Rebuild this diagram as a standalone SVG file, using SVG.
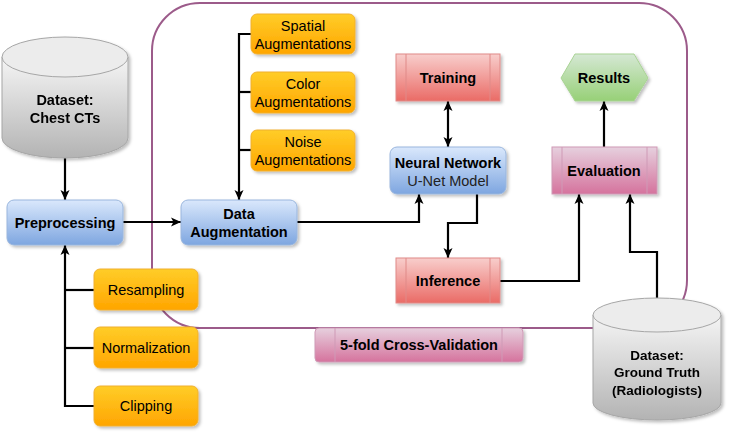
<svg xmlns="http://www.w3.org/2000/svg" width="740" height="438" viewBox="0 0 740 438">
<defs>
<linearGradient id="gBlue" x1="0" y1="0" x2="0" y2="1"><stop offset="0" stop-color="#dae8fc"/><stop offset="1" stop-color="#7ea6e0"/></linearGradient>
<linearGradient id="gOrange" x1="0" y1="0" x2="0" y2="1"><stop offset="0" stop-color="#ffcd28"/><stop offset="1" stop-color="#ffa500"/></linearGradient>
<linearGradient id="gRed" x1="0" y1="0" x2="0" y2="1"><stop offset="0" stop-color="#f8cecc"/><stop offset="1" stop-color="#ea6b66"/></linearGradient>
<linearGradient id="gGreen" x1="0" y1="0" x2="0" y2="1"><stop offset="0" stop-color="#d5e8d4"/><stop offset="1" stop-color="#97d077"/></linearGradient>
<linearGradient id="gPink" x1="0" y1="0" x2="0" y2="1"><stop offset="0" stop-color="#e6d0de"/><stop offset="1" stop-color="#d5739d"/></linearGradient>
<linearGradient id="gGray" x1="0" y1="0" x2="0" y2="1"><stop offset="0" stop-color="#f5f5f5"/><stop offset="1" stop-color="#b3b3b3"/></linearGradient>
<filter id="sh" x="-10%" y="-10%" width="130%" height="140%"><feDropShadow dx="2" dy="2" stdDeviation="1.5" flood-color="#000" flood-opacity="0.25"/></filter>
<marker id="arr" markerUnits="userSpaceOnUse" markerWidth="12" markerHeight="12" viewBox="0 0 12 12" refX="11" refY="6" orient="auto-start-reverse"><path d="M1,1.5 L11,6 L1,10.5 L3.5,6 Z" fill="#000"/></marker>
<style>
text{font-family:"Liberation Sans",Arial,sans-serif;fill:#000;text-anchor:middle;dominant-baseline:central}
.b{font-weight:bold;font-size:14.5px}
.n{font-size:14.5px}
.gt{font-weight:bold;font-size:13.5px}
.blue{fill:url(#gBlue);stroke:#9ab6dd;stroke-width:1;filter:url(#sh)}
.orange{fill:url(#gOrange);stroke:#f0b030;stroke-width:1;filter:url(#sh)}
.red{fill:url(#gRed);stroke:#e08a88;stroke-width:1;filter:url(#sh)}
.pink{fill:url(#gPink);stroke:#cf9ab6;stroke-width:1;filter:url(#sh)}
.green{fill:url(#gGreen);stroke:#a9d394;stroke-width:1;filter:url(#sh)}
.inner{stroke-width:1;fill:none}
.cyl{fill:url(#gGray);stroke:#a6a6a6;stroke-width:1}
.conn{fill:none;stroke:#000;stroke-width:2.2}
</style>
</defs>
<rect width="740" height="438" fill="#fff"/>

<g id="cross-validation-frame">
<rect x="152" y="3" width="535" height="325" rx="48" ry="48" fill="none" stroke="#9c5b8a" stroke-width="2"/>
</g>

<g id="connectors">
<path class="conn" d="M65,158 V200" marker-end="url(#arr)"/>
<path class="conn" d="M123,222 H181" marker-end="url(#arr)"/>
<path class="conn" d="M251,34 H239 V200" marker-end="url(#arr)"/>
<path class="conn" d="M251,92 H239"/>
<path class="conn" d="M251,150 H239"/>
<path class="conn" d="M297,222 H419 V194" marker-end="url(#arr)"/>
<path class="conn" d="M448,147 V101" marker-start="url(#arr)" marker-end="url(#arr)"/>
<path class="conn" d="M477,194 V223 H448 V258" marker-end="url(#arr)"/>
<path class="conn" d="M500,281 H579 V194" marker-end="url(#arr)"/>
<path class="conn" d="M657,298 V252 H630 V194" marker-end="url(#arr)"/>
<path class="conn" d="M604,147 V101" marker-end="url(#arr)"/>
<path class="conn" d="M94,406 H65 V245" marker-end="url(#arr)"/>
<path class="conn" d="M94,290 H65"/>
<path class="conn" d="M94,348 H65"/>
</g>

<g id="dataset-chest-cts" filter="url(#sh)">
<path class="cyl" d="M2,57 V138 A63,20 0 0 0 128,138 V57"/>
<ellipse class="cyl" cx="65" cy="57" rx="63" ry="20" style="fill:#ececec"/>
<text class="b" x="65" y="100">Dataset:</text>
<text class="b" x="65" y="118">Chest CTs</text>
</g>

<g id="preprocessing">
<rect class="blue" x="7" y="200" width="116" height="45" rx="7"/>
<text class="b" x="65" y="223">Preprocessing</text>
</g>

<g id="resampling">
<rect class="orange" x="94" y="269" width="104" height="41" rx="6"/>
<text class="n" x="146" y="290">Resampling</text>
</g>
<g id="normalization">
<rect class="orange" x="94" y="327" width="104" height="41" rx="6"/>
<text class="n" x="146" y="348">Normalization</text>
</g>
<g id="clipping">
<rect class="orange" x="94" y="386" width="104" height="40" rx="6"/>
<text class="n" x="146" y="406">Clipping</text>
</g>

<g id="data-augmentation">
<rect class="blue" x="181" y="200" width="116" height="45" rx="7"/>
<text class="b" x="239" y="214">Data</text>
<text class="b" x="239" y="232">Augmentation</text>
</g>

<g id="spatial-augmentations">
<rect class="orange" x="251" y="14" width="104" height="40" rx="6"/>
<text class="n" x="303" y="26">Spatial</text>
<text class="n" x="303" y="44">Augmentations</text>
</g>
<g id="color-augmentations">
<rect class="orange" x="251" y="72" width="104" height="41" rx="6"/>
<text class="n" x="303" y="84">Color</text>
<text class="n" x="303" y="102">Augmentations</text>
</g>
<g id="noise-augmentations">
<rect class="orange" x="251" y="130" width="104" height="41" rx="6"/>
<text class="n" x="303" y="142">Noise</text>
<text class="n" x="303" y="160">Augmentations</text>
</g>

<g id="training">
<rect class="red" x="396" y="54" width="104" height="47"/>
<path class="inner" stroke="#e08a88" d="M406,54 V101 M490,54 V101"/>
<text class="b" x="448" y="78">Training</text>
</g>

<g id="neural-network">
<rect class="blue" x="390" y="147" width="116" height="47" rx="7"/>
<text class="b" x="448" y="163">Neural Network</text>
<text class="n" x="448" y="181" style="fill:#222">U-Net Model</text>
</g>

<g id="inference">
<rect class="red" x="396" y="258" width="104" height="45"/>
<path class="inner" stroke="#e08a88" d="M406,258 V303 M490,258 V303"/>
<text class="b" x="448" y="281">Inference</text>
</g>

<g id="results">
<polygon class="green" points="561,78 575,54 634,54 648,78 634,101 575,101"/>
<text class="b" x="604" y="78">Results</text>
</g>

<g id="evaluation">
<rect class="pink" x="552" y="147" width="105" height="47"/>
<path class="inner" stroke="#cf9ab6" d="M562,147 V194 M647,147 V194"/>
<text class="b" x="604" y="171">Evaluation</text>
</g>

<g id="five-fold-cv">
<rect class="pink" x="315" y="328" width="208" height="34" rx="4"/>
<path class="inner" stroke="#cf9ab6" d="M335,328 V362 M502,328 V362"/>
<text class="b" x="419" y="345">5-fold Cross-Validation</text>
</g>

<g id="dataset-ground-truth" filter="url(#sh)">
<path class="cyl" d="M593,315 V403 A64,17 0 0 0 721,403 V315"/>
<ellipse class="cyl" cx="657" cy="315" rx="64" ry="17" style="fill:#ececec"/>
<text class="gt" x="657" y="355">Dataset:</text>
<text class="gt" x="657" y="372">Ground Truth</text>
<text class="gt" x="657" y="390">(Radiologists)</text>
</g>
</svg>
